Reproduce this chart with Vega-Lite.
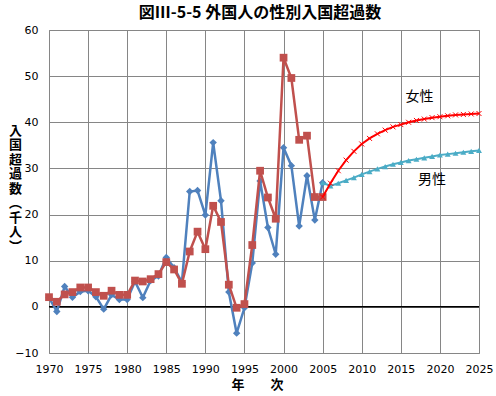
{
  "$schema": "https://vega.github.io/schema/vega-lite/v6.json",
  "width": 430,
  "height": 323,
  "autosize": "none",
  "padding": {"left": 49, "top": 30, "right": 17, "bottom": 43},
  "background": "white",
  "title": {"text": "図Ⅲ-5-5 外国人の性別入国超過数", "font": "Noto Sans CJK JP", "fontSize": 16, "fontWeight": "bold", "color": "black", "anchor": "middle", "offset": 3, "dx": -4},
  "config": {
    "view": {"stroke": "#868686", "strokeWidth": 1},
    "axis": {"domain": false, "ticks": false, "grid": true, "gridColor": "#868686", "gridWidth": 1, "gridOpacity": 1, "labelFont": "DejaVu Sans", "labelFontSize": 11, "labelColor": "black", "labelOverlap": false, "labelFlush": false, "titleFont": "Noto Sans CJK JP", "titleFontWeight": "bold", "titleFontSize": 13, "titleColor": "black"}
  },
  "datasets": {
    "hist": [
      {"year": 1970, "value": 2.0, "series": "男性"}, {"year": 1971, "value": -1.0, "series": "男性"}, {"year": 1972, "value": 4.4, "series": "男性"}, {"year": 1973, "value": 2.1, "series": "男性"}, {"year": 1974, "value": 3.3, "series": "男性"}, {"year": 1975, "value": 3.5, "series": "男性"}, {"year": 1976, "value": 2.2, "series": "男性"}, {"year": 1977, "value": -0.5, "series": "男性"}, {"year": 1978, "value": 2.6, "series": "男性"}, {"year": 1979, "value": 1.6, "series": "男性"}, {"year": 1980, "value": 1.6, "series": "男性"}, {"year": 1981, "value": 5.5, "series": "男性"}, {"year": 1982, "value": 2.0, "series": "男性"}, {"year": 1983, "value": 5.7, "series": "男性"}, {"year": 1984, "value": 6.7, "series": "男性"}, {"year": 1985, "value": 10.7, "series": "男性"}, {"year": 1986, "value": 8.5, "series": "男性"}, {"year": 1987, "value": 5.3, "series": "男性"}, {"year": 1988, "value": 25.0, "series": "男性"}, {"year": 1989, "value": 25.2, "series": "男性"}, {"year": 1990, "value": 19.9, "series": "男性"}, {"year": 1991, "value": 35.6, "series": "男性"}, {"year": 1992, "value": 23.0, "series": "男性"}, {"year": 1993, "value": 3.2, "series": "男性"}, {"year": 1994, "value": -5.7, "series": "男性"}, {"year": 1995, "value": -0.2, "series": "男性"}, {"year": 1996, "value": 9.5, "series": "男性"}, {"year": 1997, "value": 27.3, "series": "男性"}, {"year": 1998, "value": 17.2, "series": "男性"}, {"year": 1999, "value": 11.4, "series": "男性"}, {"year": 2000, "value": 34.5, "series": "男性"}, {"year": 2001, "value": 30.6, "series": "男性"}, {"year": 2002, "value": 17.5, "series": "男性"}, {"year": 2003, "value": 28.4, "series": "男性"}, {"year": 2004, "value": 18.8, "series": "男性"}, {"year": 2005, "value": 26.9, "series": "男性"},
      {"year": 1970, "value": 2.1, "series": "女性"}, {"year": 1971, "value": 1.1, "series": "女性"}, {"year": 1972, "value": 2.7, "series": "女性"}, {"year": 1973, "value": 3.2, "series": "女性"}, {"year": 1974, "value": 4.2, "series": "女性"}, {"year": 1975, "value": 4.2, "series": "女性"}, {"year": 1976, "value": 3.2, "series": "女性"}, {"year": 1977, "value": 2.4, "series": "女性"}, {"year": 1978, "value": 3.5, "series": "女性"}, {"year": 1979, "value": 2.6, "series": "女性"}, {"year": 1980, "value": 2.6, "series": "女性"}, {"year": 1981, "value": 5.7, "series": "女性"}, {"year": 1982, "value": 5.5, "series": "女性"}, {"year": 1983, "value": 6.0, "series": "女性"}, {"year": 1984, "value": 7.1, "series": "女性"}, {"year": 1985, "value": 9.7, "series": "女性"}, {"year": 1986, "value": 8.1, "series": "女性"}, {"year": 1987, "value": 5.0, "series": "女性"}, {"year": 1988, "value": 12.0, "series": "女性"}, {"year": 1989, "value": 16.3, "series": "女性"}, {"year": 1990, "value": 12.5, "series": "女性"}, {"year": 1991, "value": 21.9, "series": "女性"}, {"year": 1992, "value": 18.4, "series": "女性"}, {"year": 1993, "value": 4.8, "series": "女性"}, {"year": 1994, "value": -0.2, "series": "女性"}, {"year": 1995, "value": 0.6, "series": "女性"}, {"year": 1996, "value": 13.4, "series": "女性"}, {"year": 1997, "value": 29.5, "series": "女性"}, {"year": 1998, "value": 23.7, "series": "女性"}, {"year": 1999, "value": 19.1, "series": "女性"}, {"year": 2000, "value": 54.0, "series": "女性"}, {"year": 2001, "value": 49.6, "series": "女性"}, {"year": 2002, "value": 36.2, "series": "女性"}, {"year": 2003, "value": 37.1, "series": "女性"}, {"year": 2004, "value": 23.8, "series": "女性"}, {"year": 2005, "value": 23.8, "series": "女性"}
    ],
    "proj": [
      {"year": 2005, "value": 26.9, "series": "男性"}, {"year": 2006, "value": 26.2, "series": "男性"}, {"year": 2007, "value": 26.8, "series": "男性"}, {"year": 2008, "value": 27.4, "series": "男性"}, {"year": 2009, "value": 28.0, "series": "男性"}, {"year": 2010, "value": 28.7, "series": "男性"}, {"year": 2011, "value": 29.3, "series": "男性"}, {"year": 2012, "value": 29.9, "series": "男性"}, {"year": 2013, "value": 30.4, "series": "男性"}, {"year": 2014, "value": 30.9, "series": "男性"}, {"year": 2015, "value": 31.3, "series": "男性"}, {"year": 2016, "value": 31.7, "series": "男性"}, {"year": 2017, "value": 32.0, "series": "男性"}, {"year": 2018, "value": 32.3, "series": "男性"}, {"year": 2019, "value": 32.6, "series": "男性"}, {"year": 2020, "value": 32.9, "series": "男性"}, {"year": 2021, "value": 33.1, "series": "男性"}, {"year": 2022, "value": 33.3, "series": "男性"}, {"year": 2023, "value": 33.5, "series": "男性"}, {"year": 2024, "value": 33.7, "series": "男性"}, {"year": 2025, "value": 33.9, "series": "男性"},
      {"year": 2005, "value": 23.8, "series": "女性"}, {"year": 2006, "value": 26.8, "series": "女性"}, {"year": 2007, "value": 29.5, "series": "女性"}, {"year": 2008, "value": 31.8, "series": "女性"}, {"year": 2009, "value": 33.7, "series": "女性"}, {"year": 2010, "value": 35.3, "series": "女性"}, {"year": 2011, "value": 36.5, "series": "女性"}, {"year": 2012, "value": 37.5, "series": "女性"}, {"year": 2013, "value": 38.3, "series": "女性"}, {"year": 2014, "value": 39.0, "series": "女性"}, {"year": 2015, "value": 39.5, "series": "女性"}, {"year": 2016, "value": 40.0, "series": "女性"}, {"year": 2017, "value": 40.4, "series": "女性"}, {"year": 2018, "value": 40.7, "series": "女性"}, {"year": 2019, "value": 41.0, "series": "女性"}, {"year": 2020, "value": 41.2, "series": "女性"}, {"year": 2021, "value": 41.4, "series": "女性"}, {"year": 2022, "value": 41.6, "series": "女性"}, {"year": 2023, "value": 41.7, "series": "女性"}, {"year": 2024, "value": 41.8, "series": "女性"}, {"year": 2025, "value": 41.9, "series": "女性"}
    ],
    "labels": [
      {"year": 2017.4, "value": 45.5, "label": "女性"},
      {"year": 2019.0, "value": 27.5, "label": "男性"}
    ],
    "zero": [{"year": 1970, "value": 0}, {"year": 2025, "value": 0}]
  },
  "encoding": {
    "x": {"field": "year", "type": "quantitative", "scale": {"domain": [1970, 2025], "nice": false, "zero": false},
      "axis": {"values": [1970, 1975, 1980, 1985, 1990, 1995, 2000, 2005, 2010, 2015, 2020, 2025], "format": "d", "labelOverlap": false, "labelFlush": false, "labelBound": false, "labelSeparation": 0, "labelPadding": 10, "title": "年　　次", "titleX": 208, "titleY": 31, "titleBaseline": "middle", "titleAlign": "center"}},
    "y": {"field": "value", "type": "quantitative", "scale": {"domain": [-10, 60], "nice": false, "zero": false},
      "axis": {"values": [-10, 0, 10, 20, 30, 40, 50, 60], "labelPadding": 11, "title": ["入", "国", "超", "過", "数", "︵", "千", "人", "︶"], "titleAngle": 0, "titleAlign": "center", "titleBaseline": "top", "titleX": -34, "titleY": 94, "titleLineHeight": 14.5}}
  },
  "layer": [
    {
      "data": {"name": "zero"},
      "mark": {"type": "line", "color": "black", "strokeWidth": 1.5}
    },
    {
      "data": {"name": "hist"},
      "transform": [{"filter": "datum.series === '男性'"}],
      "mark": {"type": "line", "color": "#4F81BD", "strokeWidth": 2.5, "point": {"shape": "diamond", "size": 55, "filled": true, "color": "#4F81BD"}}
    },
    {
      "data": {"name": "hist"},
      "transform": [{"filter": "datum.series === '女性'"}],
      "mark": {"type": "line", "color": "#C0504D", "strokeWidth": 2.5, "point": {"shape": "square", "size": 60, "filled": true, "color": "#C0504D"}}
    },
    {
      "data": {"name": "proj"},
      "transform": [{"filter": "datum.series === '男性'"}],
      "mark": {"type": "line", "color": "#4BACC6", "strokeWidth": 2, "point": {"shape": "triangle-up", "size": 35, "filled": true, "color": "#4BACC6"}}
    },
    {
      "data": {"name": "proj"},
      "transform": [{"filter": "datum.series === '女性'"}],
      "mark": {"type": "line", "color": "#FF0000", "strokeWidth": 2, "point": {"shape": "M-1,-1L1,1M-1,1L1,-1", "size": 25, "filled": false, "stroke": "#FF0000", "strokeWidth": 1}}
    },
    {
      "data": {"name": "labels"},
      "mark": {"type": "text", "font": "Noto Sans CJK JP", "fontSize": 14, "color": "black", "align": "center", "baseline": "middle"},
      "encoding": {"text": {"field": "label"}}
    }
  ]
}
